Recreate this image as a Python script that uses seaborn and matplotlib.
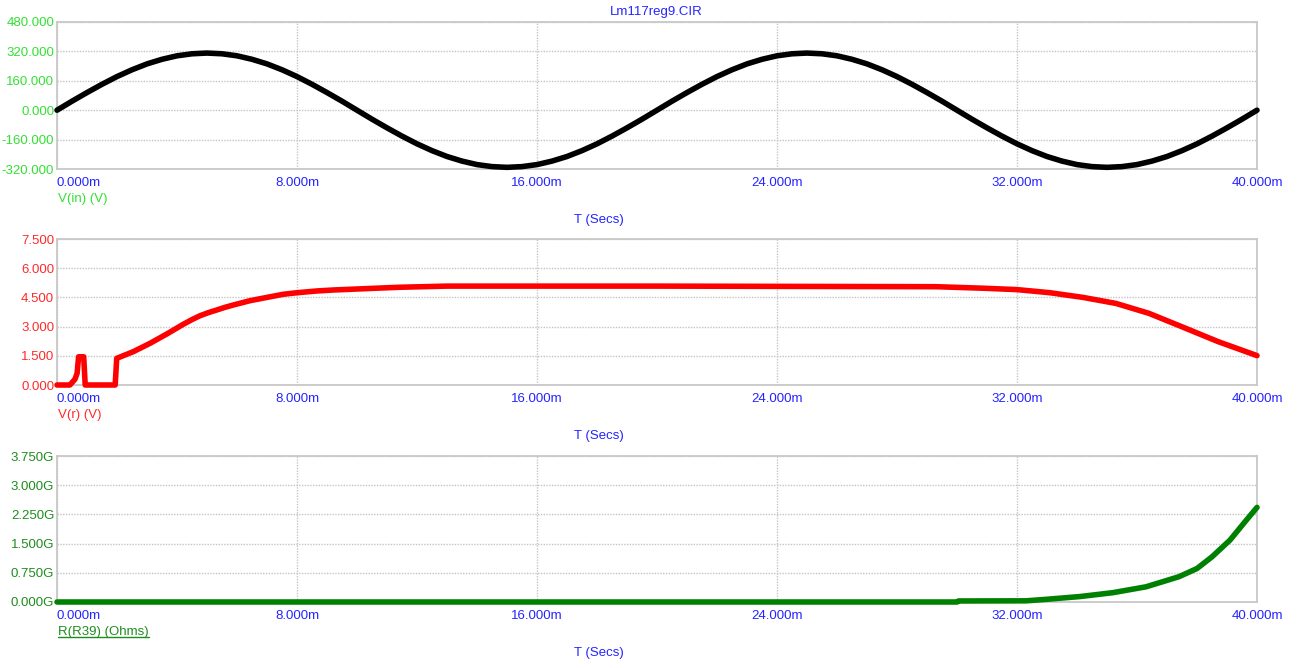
import numpy as np
import pandas as pd
import seaborn as sns
import matplotlib.pyplot as plt
from matplotlib.lines import Line2D

# V(in): sine, every 0.5 ms from 0 to 40 ms
t_in = [i * 0.5 for i in range(81)]
half = [0, 49, 96, 141, 183, 220, 252, 277, 296, 307, 311, 307, 296, 277, 252, 220, 183, 141, 96, 49]
v_in = half + [-v for v in half] + half + [-v for v in half] + [0]

# V(r)
t_r = [0, 0.43, 0.6, 0.67, 0.72, 0.89, 0.94, 1.94, 1.99, 2.54, 3.1, 3.66, 4.21, 4.5, 4.77, 5.05,
       5.32, 5.6, 5.88, 6.43, 7.0, 7.54, 8.0, 8.66, 9.2, 10.3, 11.4, 13.0, 20.0, 29.3, 30.9,
       32.0, 33.1, 34.2, 35.3, 36.4, 37.5, 38.7, 40.0]
v_r = [0, 0, 0.3, 0.6, 1.45, 1.45, 0, 0, 1.37, 1.71, 2.14, 2.62, 3.12, 3.36, 3.56, 3.72,
       3.85, 3.99, 4.11, 4.33, 4.50, 4.66, 4.74, 4.83, 4.88, 4.95, 5.02, 5.08, 5.08, 5.05, 4.97,
       4.90, 4.74, 4.50, 4.19, 3.68, 2.99, 2.23, 1.51]

# R(R39) in GOhm
t_res = [0, 30.0, 30.05, 32.3, 33.0, 34.1, 35.2, 36.3, 37.4, 38.0, 38.5, 39.1, 39.6, 40.0]
r39 = [0, 0, 0.026, 0.03, 0.07, 0.14, 0.24, 0.39, 0.65, 0.86, 1.16, 1.59, 2.06, 2.43]

x_ticks = [0, 8, 16, 24, 32, 40]
yticks_in = [-320, -160, 0, 160, 320, 480]
yticks_r = [0, 1.5, 3.0, 4.5, 6.0, 7.5]
yticks_res = [0, 0.75, 1.5, 2.25, 3.0, 3.75]

sns.set_theme(style='white')
plt.rcParams['font.family'] = ['Liberation Sans', 'DejaVu Sans']
fs = 9.5

W, H = 1297, 668
fig = plt.figure(figsize=(W / 100, H / 100), dpi=100)

blue = '#2424ff'
panels = [
    (22, 169, t_in, v_in, '#000000', yticks_in, '#33e033', '{:.3f}', 'V(in) (V)', '#33e033'),
    (239, 385, t_r, v_r, '#ff0000', yticks_r, '#ff2a2a', '{:.3f}', 'V(r) (V)', '#ff2a2a'),
    (456, 602, t_res, r39, '#008000', yticks_res, '#1e8c1e', '{:.3f}G', 'R(R39) (Ohms)', '#1e8c1e'),
]

labels = []
for top, bot, xs, ys, col, yt, tcol, fmt, name, ncol in panels:
    ax = fig.add_axes([57 / W, 1 - bot / H, 1200 / W, (bot - top) / H])
    df = pd.DataFrame({'t': xs, 'v': ys})
    sns.lineplot(data=df, x='t', y='v', ax=ax, color=col, linewidth=4,
                 estimator=None, sort=False, clip_on=False, zorder=3)
    ax.set_xlim(0, 40)
    ax.set_ylim(yt[0], yt[-1])
    ax.set_xticks(x_ticks)
    ax.set_yticks(yt)
    ax.set_xticklabels(['{:.3f}m'.format(v) for v in x_ticks])
    ax.set_yticklabels([fmt.format(v) for v in yt])
    ax.xaxis.get_ticklabels()[0].set_ha('left')
    ax.tick_params(axis='x', length=0, pad=6, labelsize=fs, labelcolor=blue)
    ax.tick_params(axis='y', length=0, pad=2, labelsize=fs, labelcolor=tcol)
    ax.grid(True, linestyle=(0, (1, 1)), color='#c4c4c4', linewidth=1)
    for s in ax.spines.values():
        s.set_color('#c8c8c8')
        s.set_linewidth(1.3)
    ax.set_xlabel('')
    ax.set_ylabel('')
    lbl = fig.text(58 / W, 1 - (bot + 30) / H, name, color=ncol, fontsize=fs, va='center', ha='left')
    labels.append(lbl)
    fig.text(599 / W, 1 - (bot + 51) / H, 'T (Secs)', color=blue, fontsize=fs, va='center', ha='center')

fig.text(656 / W, 1 - 12 / H, 'Lm117reg9.CIR', color=blue, fontsize=fs, va='center', ha='center')

# underline for the R(R39) label
fig.canvas.draw()
bb = labels[-1].get_window_extent()
fig.add_artist(Line2D([bb.x0 / W, bb.x1 / W], [(bb.y0 + 1) / H, (bb.y0 + 1) / H],
                      color='#1e8c1e', linewidth=1))

fig.savefig('out.png', dpi=100)
